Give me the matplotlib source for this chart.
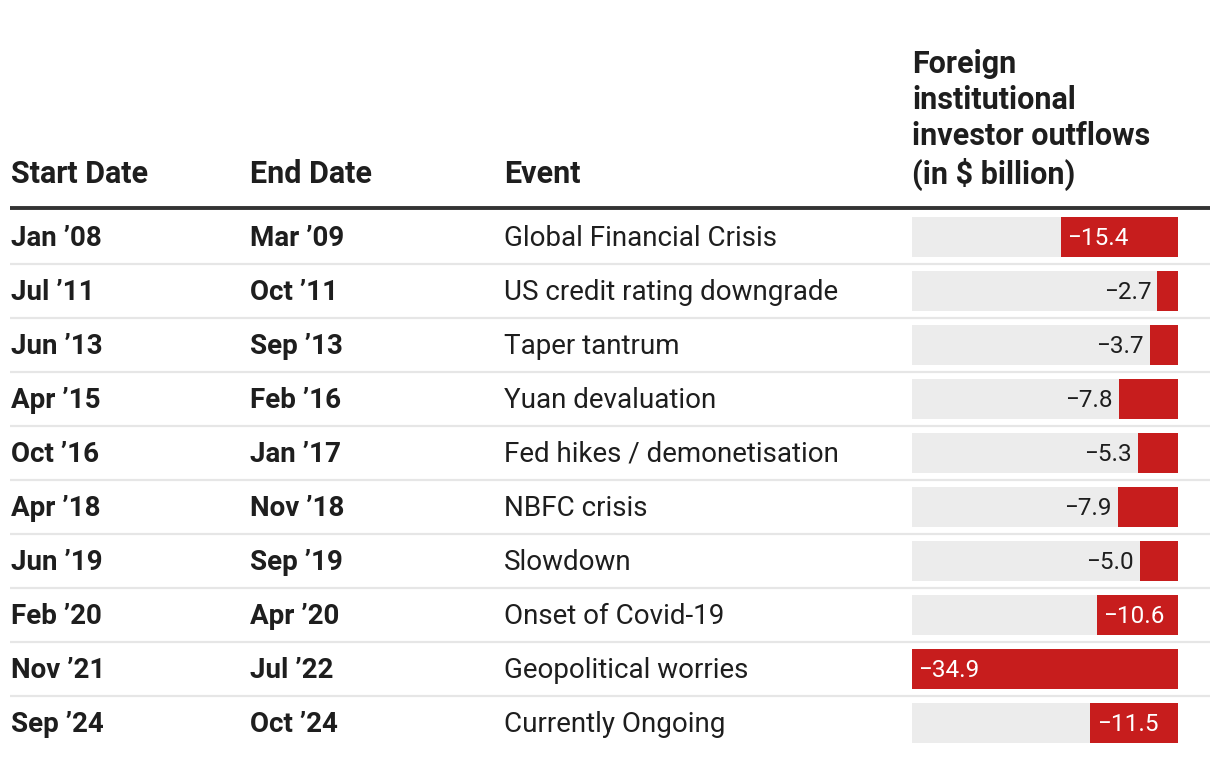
import matplotlib
matplotlib.use('Agg')
import matplotlib.pyplot as plt

### Data

start_dates = ["Jan \u201908", "Jul \u201911", "Jun \u201913", "Apr \u201915", "Oct \u201916",
               "Apr \u201918", "Jun \u201919", "Feb \u201920", "Nov \u201921", "Sep \u201924"]
end_dates = ["Mar \u201909", "Oct \u201911", "Sep \u201913", "Feb \u201916", "Jan \u201917",
             "Nov \u201918", "Sep \u201919", "Apr \u201920", "Jul \u201922", "Oct \u201924"]
events = ["Global Financial Crisis", "US credit rating downgrade", "Taper tantrum",
          "Yuan devaluation", "Fed hikes / demonetisation", "NBFC crisis", "Slowdown",
          "Onset of Covid-19", "Geopolitical worries", "Currently Ongoing"]
outflows = [-15.4, -2.7, -3.7, -7.8, -5.3, -7.9, -5.0, -10.6, -34.9, -11.5]

headers = ["Start Date", "End Date", "Event",
           "Foreign\ninstitutional\ninvestor outflows\n(in $ billion)"]

### Styles

RED = '#c71d1d'
GREY_BG = '#ececec'
TEXT = '#1e1e1e'
plt.rcParams['font.family'] = ['Roboto', 'DejaVu Sans']

W, H = 1220, 758
fig = plt.figure(figsize=(W / 100, H / 100), dpi=100)

# text layer in pixel coordinates
ax = fig.add_axes([0, 0, 1, 1])
ax.set_xlim(0, W)
ax.set_ylim(H, 0)
ax.axis('off')

col_x = [11, 250, 504, 912]
row0, row_h = 237, 54

# headers
for x, h in zip(col_x[:3], headers[:3]):
    ax.text(x, 183, h, fontsize=22, fontweight='bold', color=TEXT, va='baseline', ha='left')
ax.text(col_x[3], 49, headers[3], fontsize=22, fontweight='bold', color=TEXT,
        va='top', ha='left', linespacing=1.26)

ax.plot([10, 1210], [208, 208], color='#333333', lw=2.8, solid_capstyle='butt')

for i in range(len(events)):
    y = row0 + i * row_h + 1
    ax.text(col_x[0], y, start_dates[i], fontsize=20, fontweight='bold', color=TEXT, va='center')
    ax.text(col_x[1], y, end_dates[i], fontsize=20, fontweight='bold', color=TEXT, va='center')
    ax.text(col_x[2], y, events[i], fontsize=20, color=TEXT, va='center')
    if i < len(events) - 1:
        ax.plot([10, 1210], [y + 26, y + 26], color='#e6e6e6', lw=1.6, solid_capstyle='butt')

### Bar column

n = len(outflows)
top_px = row0 - row_h / 2
bot_px = row0 + (n - 0.5) * row_h
bax = fig.add_axes([912 / W, 1 - bot_px / H, 266 / W, (bot_px - top_px) / H])
vmin = min(outflows)
bax.set_xlim(vmin, 0)
bax.set_ylim(n - 0.5, -0.5)
bax.axis('off')

rows = list(range(n))
bh = 40 / row_h
bax.barh(rows, [vmin] * n, height=bh, color=GREY_BG, zorder=1)
bax.barh(rows, outflows, height=bh, color=RED, zorder=2)

for i, v in enumerate(outflows):
    label = f"\u2212{abs(v):.1f}"
    if abs(v) >= 10:
        bax.annotate(label, (v, i), xytext=(4.5, -1.3), textcoords='offset points',
                     ha='left', va='center', color='white', fontsize=17.5, zorder=3)
    else:
        bax.annotate(label, (v, i), xytext=(-4.5, -1.3), textcoords='offset points',
                     ha='right', va='center', color=TEXT, fontsize=17.5, zorder=3)

fig.savefig('out.png', dpi=100, facecolor='white')
plt.close(fig)
